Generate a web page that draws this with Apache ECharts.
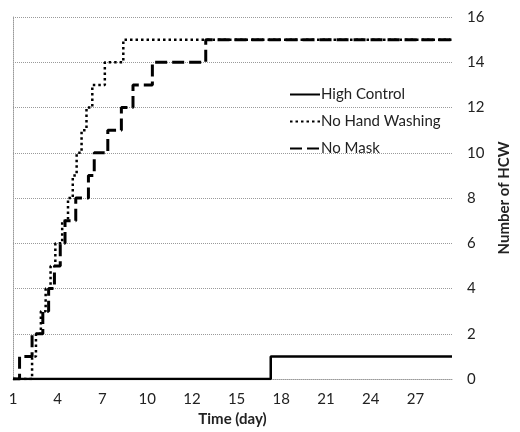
<!DOCTYPE html>
<html>
<head>
<meta charset="utf-8">
<script src="https://cdn.jsdelivr.net/npm/echarts@6/dist/echarts.min.js"></script>
<style>
html,body{margin:0;padding:0;background:#fff;}
#c{width:520px;height:432px;}
</style>
</head>
<body>
<div id="c"></div>
<script>
// Time is in days measured from the first tick (labelled "1")
const xTickLabels = ['1', '4', '7', '10', '12', '15', '18', '21', '24', '27'];
const yTicks = [0, 2, 4, 6, 8, 10, 12, 14, 16];
const xEnd = 29.45;

const seriesNames = ['High Control', 'No Hand Washing', 'No Mask'];

// High Control: step times and cumulative counts
const highControlT = [0, 17.29, 29.45];
const highControlV = [0, 1, 1];

// No Hand Washing
const noHandWashT = [0, 1.28, 1.54, 1.87, 2.19, 2.52, 2.84, 3.30, 3.69, 4.01, 4.27, 4.60, 4.93, 5.32, 6.16, 7.40, 29.45];
const noHandWashV = [0, 1, 2, 3, 4, 5, 6, 7, 8, 9, 10, 11, 12, 13, 14, 15, 15];

// No Mask
const noMaskT = [0, 0.44, 1.28, 2.00, 2.39, 2.78, 3.17, 3.49, 4.21, 5.06, 5.45, 6.36, 7.27, 8.05, 9.35, 12.93, 29.45];
const noMaskV = [0, 1, 2, 3, 4, 5, 6, 7, 8, 9, 10, 11, 12, 13, 14, 15, 15];

const pairs = (t, v) => t.map((x, i) => [x, v[i]]);

const FONT = 'Lato';
const chart = echarts.init(document.getElementById('c'), null, {renderer: 'canvas'});
chart.setOption({
  backgroundColor: '#ffffff',
  animation: false,
  textStyle: {fontFamily: FONT},
  grid: {left: 13, right: 54, top: 17, bottom: 44, containLabel: false},
  legend: {
    orient: 'vertical',
    left: 284, top: 82,
    itemWidth: 30, itemHeight: 14, itemGap: 12,
    data: seriesNames,
    itemStyle: {opacity: 0},
    textStyle: {fontFamily: FONT, fontSize: 15, color: '#222', padding: [0, 0, 0, -4]}
  },
  xAxis: {
    type: 'value',
    min: 0, max: xEnd, interval: 3,
    name: 'Time (day)', nameLocation: 'middle', nameGap: 31,
    nameTextStyle: {fontFamily: FONT, fontWeight: 'bold', fontSize: 15, color: '#222'},
    axisLine: {show: true, lineStyle: {color: '#9a9a9a', type: 'dotted', width: 1}},
    axisTick: {show: false},
    splitLine: {show: false},
    axisLabel: {
      margin: 13, fontSize: 15, color: '#222', fontFamily: FONT, showMaxLabel: false,
      formatter: function (v) {
        const k = Math.round(v / 3);
        if (Math.abs(v - 3 * k) < 1e-6 && k < xTickLabels.length) return xTickLabels[k];
        return '';
      }
    }
  },
  yAxis: {
    type: 'value', position: 'right',
    min: yTicks[0], max: yTicks[yTicks.length - 1], interval: 2,
    name: 'Number of HCW', nameLocation: 'middle', nameGap: 45, nameRotate: 90,
    nameTextStyle: {fontFamily: FONT, fontWeight: 'bold', fontSize: 15, color: '#222'},
    axisLine: {show: true, lineStyle: {color: '#9a9a9a', type: 'dotted', width: 1}},
    axisTick: {show: true, length: 3, lineStyle: {color: '#9a9a9a', type: 'dotted'}},
    splitLine: {show: true, lineStyle: {color: '#9a9a9a', type: 'dotted', width: 1}},
    axisLabel: {margin: 15, fontSize: 15, color: '#222', fontFamily: FONT}
  },
  series: [
    {
      name: seriesNames[0], type: 'line', step: 'end', symbol: 'none',
      data: pairs(highControlT, highControlV),
      lineStyle: {color: '#000', width: 2.5, type: 'solid'},
      itemStyle: {color: '#000'}, z: 3
    },
    {
      name: seriesNames[2], type: 'line', step: 'end', symbol: 'none',
      data: pairs(noMaskT, noMaskV),
      lineStyle: {color: '#000', width: 3, type: [12, 5]},
      itemStyle: {color: '#000'}, z: 4
    },
    {
      name: seriesNames[1], type: 'line', step: 'end', symbol: 'none',
      data: pairs(noHandWashT, noHandWashV),
      lineStyle: {color: '#000', width: 2.5, type: [2.5, 3]},
      itemStyle: {color: '#000'}, z: 5
    }
  ]
});
</script>
</body>
</html>
